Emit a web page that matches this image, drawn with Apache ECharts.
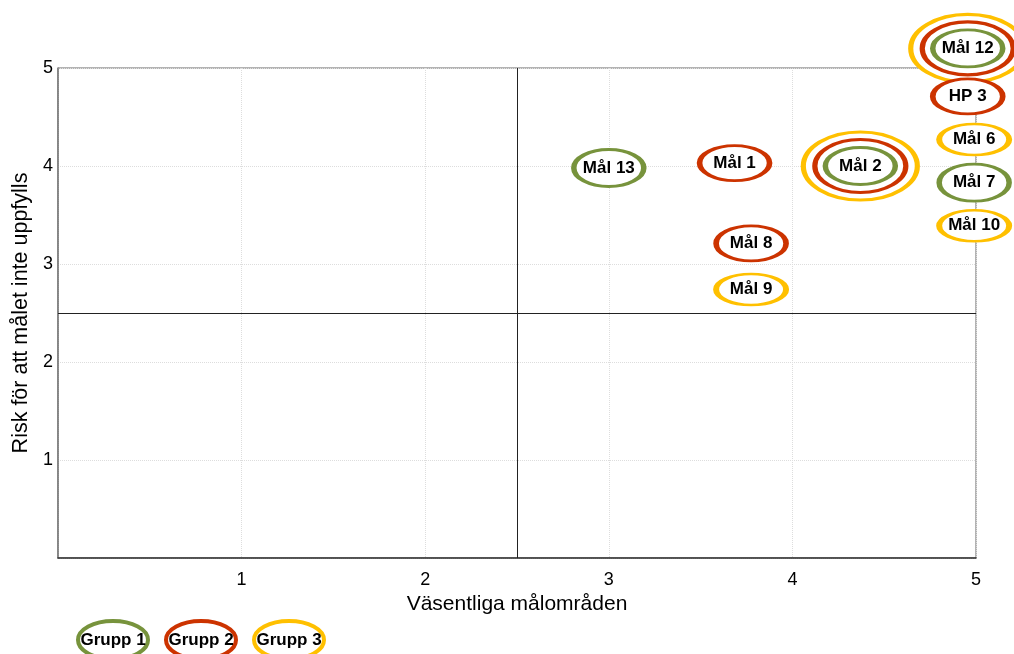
<!DOCTYPE html>
<html>
<head>
<meta charset="utf-8">
<script src="https://cdn.jsdelivr.net/npm/echarts@6/dist/echarts.min.js"></script>
<style>html,body{margin:0;padding:0;background:#fff}#c{width:1014px;height:654px}</style>
</head>
<body>
<div id="c"></div>
<script>
// ---- data ----
const names = ['Mål 13', 'Mål 1', 'Mål 2', 'Mål 8', 'Mål 9', 'Mål 12', 'HP 3', 'Mål 6', 'Mål 7', 'Mål 10'];
const xVals = [3.0, 3.685, 4.37, 3.775, 3.775, 4.955, 4.955, 4.99, 4.99, 4.99];
const yVals = [3.98, 4.03, 4.0, 3.21, 2.74, 5.2, 4.71, 4.27, 3.83, 3.39];
const grupp1 = ['Mål 13', 'Mål 2', 'Mål 12', 'Mål 7'];
const grupp2 = ['Mål 1', 'Mål 2', 'Mål 8', 'Mål 12', 'HP 3'];
const grupp3 = ['Mål 2', 'Mål 9', 'Mål 12', 'Mål 6', 'Mål 10'];
const groupNames = ['Grupp 1', 'Grupp 2', 'Grupp 3'];
const xTicks = [1, 2, 3, 4, 5];
const yTicks = [1, 2, 3, 4, 5];
const xTitle = 'Väsentliga målområden';
const yTitle = 'Risk för att målet inte uppfylls';
const quadrantX = 2.5, quadrantY = 2.5;

// ---- styles ----
const colors = ['#77933C', '#CC3300', '#FFC000'];
const singleSizes = [[70, 37], [70, 35], [70, 31]];
const ringSizes = [[70, 37], [91, 53], [114, 68]];
const FONT = 'Liberation Sans, Arial, sans-serif';
const ELLIPSE = 'path://M0,50a50,50 0 1,0 100,0a50,50 0 1,0 -100,0z';

const groups = [grupp1, grupp2, grupp3];
function membership(name) {
  const m = [];
  groups.forEach((g, i) => { if (g.indexOf(name) >= 0) m.push(i); });
  return m;
}
function buildData(gi) {
  return groups[gi].map(n => {
    const idx = names.indexOf(n);
    const m = membership(n);
    const level = m.indexOf(gi);
    const size = m.length > 1 ? ringSizes[level] : singleSizes[gi];
    return {
      name: n,
      value: [xVals[idx], yVals[idx]],
      symbolSize: size,
      label: { show: level === 0 }
    };
  });
}

const series = [];
// draw outermost first (yellow), then red, then green
[2, 1, 0].forEach(gi => {
  series.push({
    type: 'scatter',
    name: groupNames[gi],
    clip: false,
    symbol: ELLIPSE,
    symbolKeepAspect: false,
    itemStyle: { color: '#fff', borderColor: colors[gi], borderWidth: 4, opacity: 1 },
    label: {
      position: 'inside',
      formatter: '{b}',
      color: '#000',
      fontWeight: 'bold',
      fontSize: 17,
      fontFamily: FONT
    },
    emphasis: { disabled: true },
    z: 10 + (2 - gi),
    data: buildData(gi)
  });
});
// quadrant lines
series.push({
  type: 'scatter',
  data: [],
  silent: true,
  markLine: {
    silent: true,
    symbol: 'none',
    label: { show: false },
    lineStyle: { color: '#222', type: 'solid', width: 1 },
    data: [{ xAxis: quadrantX }, { yAxis: quadrantY }]
  },
  z: 2
});

const legendCenters = [113, 201, 289];
const graphic = [];
groupNames.forEach((g, i) => {
  graphic.push({
    type: 'ellipse',
    shape: { cx: legendCenters[i], cy: 640, rx: 35, ry: 19 },
    style: { fill: '#fff', stroke: colors[i], lineWidth: 4 },
    z: 100
  });
  graphic.push({
    type: 'text',
    x: legendCenters[i], y: 640,
    style: { text: g, fill: '#000', font: 'bold 17px ' + FONT, align: 'center', verticalAlign: 'middle' },
    z: 101
  });
});

const chart = echarts.init(document.getElementById('c'), null, { renderer: 'canvas' });
chart.setOption({
  animation: false,
  backgroundColor: '#fff',
  grid: { left: 58, right: 38, top: 68, bottom: 96, show: true, borderColor: '#666', borderWidth: 1, backgroundColor: 'transparent' },
  xAxis: {
    type: 'value', min: 0, max: 5, interval: 1,
    name: xTitle, nameLocation: 'middle', nameGap: 36,
    nameTextStyle: { fontSize: 21, fontFamily: FONT, color: '#000' },
    axisLine: { show: true, lineStyle: { color: '#333', width: 1.5 } },
    axisTick: { show: false },
    axisLabel: { fontSize: 18, fontFamily: FONT, color: '#000', margin: 13,
      formatter: v => xTicks.indexOf(v) >= 0 ? String(v) : '' },
    splitLine: { show: true, lineStyle: { color: '#ddd', type: 'dotted' } }
  },
  yAxis: {
    type: 'value', min: 0, max: 5, interval: 1,
    name: yTitle, nameLocation: 'middle', nameGap: 22, nameRotate: 90,
    nameTextStyle: { fontSize: 21.5, fontFamily: FONT, color: '#000' },
    axisLine: { show: true, lineStyle: { color: '#777', width: 1.5 } },
    axisTick: { show: false },
    axisLabel: { fontSize: 18, fontFamily: FONT, color: '#000', margin: 5,
      formatter: v => yTicks.indexOf(v) >= 0 ? String(v) : '' },
    splitLine: { show: true, lineStyle: { color: '#ddd', type: 'dotted' } }
  },
  series: series,
  graphic: graphic
});
</script>
</body>
</html>
